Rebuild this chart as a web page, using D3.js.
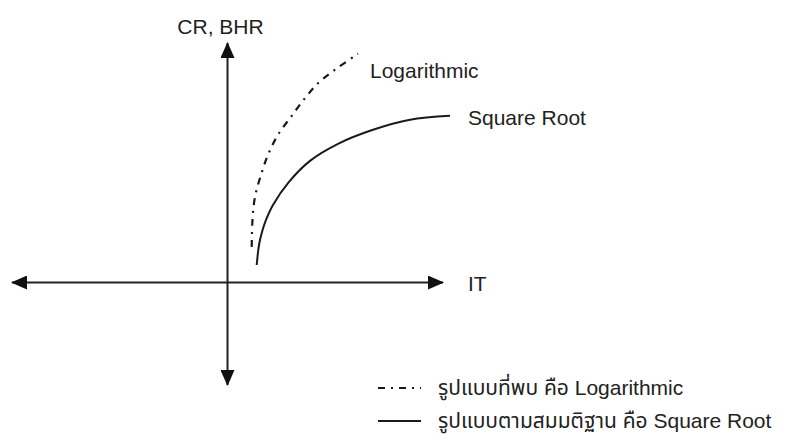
<!DOCTYPE html>
<html>
<head>
<meta charset="utf-8">
<script src="https://cdn.jsdelivr.net/npm/d3@7"></script>
<style>
    body { margin: 0; background: #fff; }
    text { font-family: "Liberation Sans", Arial, "Noto Sans Thai", "Noto Sans", sans-serif; fill: #222; }
</style>
</head>
<body>
<div id="chart_container"></div>
<script>
// axis extents (IT and CR/BHR), origin at 0,0
var xExtent = [-10, 10];
var yExtent = [-4.75, 11.1];

// hypothesised curve - square root
var sqrtX = [1.355, 1.462, 1.601, 1.787, 2.111, 2.854, 3.828, 5.128, 6.752, 8.469, 10.325];
var sqrtY = [0.812, 1.740, 2.343, 2.900, 3.596, 4.664, 5.638, 6.427, 7.077, 7.541, 7.726];

// found curve - logarithmic
var logX = [1.123, 1.160, 1.276, 1.555, 1.879, 2.343, 2.947, 3.573, 4.223, 4.988, 6.056];
var logY = [1.647, 2.900, 3.968, 4.988, 5.916, 6.845, 7.680, 8.515, 9.258, 9.861, 10.603];

var axisNames = ["IT", "CR, BHR"];
var curveNames = ["Logarithmic", "Square Root"];
var legendNames = ["รูปแบบที่พบ คือ Logarithmic", "รูปแบบตามสมมติฐาน คือ Square Root"];

var width = 792, height = 444;

var svg = d3.select("#chart_container")
    .append("svg")
    .attr("width", width)
    .attr("height", height);

var x = d3.scaleLinear().domain(xExtent).range([12, 443]);
var y = d3.scaleLinear().domain(yExtent).range([385, 43]);

// arrow head used on both axes
svg.append("defs").append("marker")
    .attr("id", "arrow")
    .attr("viewBox", "0 0 16 14")
    .attr("refX", 15)
    .attr("refY", 7)
    .attr("markerUnits", "userSpaceOnUse")
    .attr("markerWidth", 16)
    .attr("markerHeight", 14)
    .attr("orient", "auto-start-reverse")
    .append("path")
    .attr("d", "M0,0 L16,7 L0,14 Z")
    .attr("fill", "#111");

// X axis (IT)
svg.append("line")
    .attr("x1", x(xExtent[0])).attr("x2", x(xExtent[1]))
    .attr("y1", y(0)).attr("y2", y(0))
    .attr("stroke", "#222").attr("stroke-width", 2)
    .attr("marker-start", "url(#arrow)")
    .attr("marker-end", "url(#arrow)");

// Y axis (CR, BHR)
svg.append("line")
    .attr("x1", x(0)).attr("x2", x(0))
    .attr("y1", y(yExtent[0])).attr("y2", y(yExtent[1]))
    .attr("stroke", "#222").attr("stroke-width", 2)
    .attr("marker-start", "url(#arrow)")
    .attr("marker-end", "url(#arrow)");

svg.append("text")
    .attr("x", x(xExtent[1]) + 25)
    .attr("y", y(0) + 8)
    .style("font-size", "21px")
    .text(axisNames[0]);

svg.append("text")
    .attr("x", x(0) - 7)
    .attr("y", y(yExtent[1]) - 9)
    .attr("text-anchor", "middle")
    .style("font-size", "21px")
    .text(axisNames[1]);

var line = d3.line()
    .x(function (d) { return x(d[0]); })
    .y(function (d) { return y(d[1]); })
    .curve(d3.curveCatmullRom.alpha(0.5));

var logData = d3.zip(logX, logY);
var sqrtData = d3.zip(sqrtX, sqrtY);

svg.append("path")
    .datum(logData)
    .attr("d", line)
    .attr("fill", "none")
    .attr("stroke", "#1a1a1a")
    .attr("stroke-width", 2.2)
    .attr("stroke-dasharray", "7,6,2,6");

svg.append("path")
    .datum(sqrtData)
    .attr("d", line)
    .attr("fill", "none")
    .attr("stroke", "#1a1a1a")
    .attr("stroke-width", 2);

// labels at the curve ends
var logEnd = logData[logData.length - 1];
var sqrtEnd = sqrtData[sqrtData.length - 1];

svg.append("text")
    .attr("x", x(logEnd[0]) + 12)
    .attr("y", y(logEnd[1]) + 24)
    .style("font-size", "21px")
    .text(curveNames[0]);

svg.append("text")
    .attr("x", x(sqrtEnd[0]) + 18)
    .attr("y", y(sqrtEnd[1]) + 9)
    .style("font-size", "21px")
    .text(curveNames[1]);

// Legend
var legend = svg.append("g")
    .attr("transform", "translate(378,388)");

var dashes = ["7,6,2,6", null];
legendNames.forEach(function (name, i) {
    legend.append("line")
        .attr("x1", 0).attr("x2", 43)
        .attr("y1", i * 33).attr("y2", i * 33)
        .attr("stroke", "#1a1a1a")
        .attr("stroke-width", 2)
        .attr("stroke-dasharray", dashes[i]);
    legend.append("text")
        .attr("x", 60)
        .attr("y", i * 33)
        .attr("dy", "0.35em")
        .style("font-size", "21px")
        .text(name);
});
</script>
</body>
</html>
